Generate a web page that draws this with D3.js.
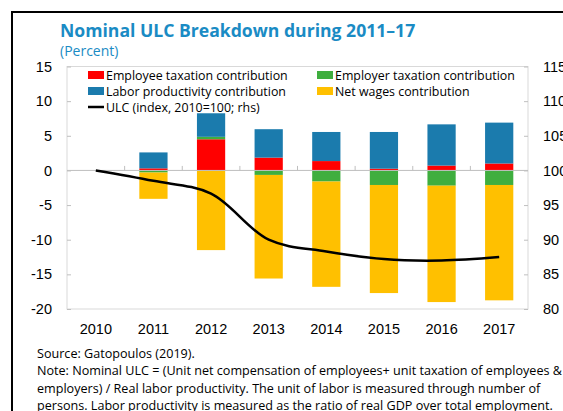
<!DOCTYPE html>
<html>
<head>
<meta charset="utf-8">
<script src="https://cdn.jsdelivr.net/npm/d3@7"></script>
<style>
  body { margin: 0; background: #fff; }
  svg { display: block; font-family: "Open Sans", "Noto Sans", sans-serif; }
</style>
</head>
<body>
<svg id="chart" width="563" height="411"></svg>
<script>

var years = ['2010', '2011', '2012', '2013', '2014', '2015', '2016', '2017']
var employeeTax = [0, 0.3, 4.5, 1.85, 1.35, 0.25, 0.7, 1.0]
var employerTax = [0, -0.3, 0.35, -0.65, -1.6, -2.1, -2.2, -2.1]
var laborProd = [0, 2.3, 3.4, 4.1, 4.2, 5.3, 5.95, 5.9]
var netWages = [0, -3.8, -11.5, -14.95, -15.2, -15.6, -16.8, -16.65]
var ulcIndex = [100, 98.5, 96.65, 90.0, 88.3, 87.2, 87.0, 87.5]
var leftTicks = [-20, -15, -10, -5, 0, 5, 10, 15]
var rightTicks = [80, 85, 90, 95, 100, 105, 110, 115]

var series = [
    {key: 'employee', name: 'Employee taxation contribution', color: '#ff0000', values: employeeTax},
    {key: 'employer', name: 'Employer taxation contribution', color: '#3fae3f', values: employerTax},
    {key: 'labor', name: 'Labor productivity contribution', color: '#1b7bad', values: laborProd},
    {key: 'wages', name: 'Net wages contribution', color: '#ffc000', values: netWages}
]

var svg = d3.select('#chart')
var plot = {left: 67, right: 528, top: 66.5, bottom: 309}

// outer black frame (top + left)
svg.append('path')
    .attr('d', 'M12,411 V12 H563')
    .attr('fill', 'none')
    .attr('stroke', '#000')
    .attr('stroke-width', 2)

svg.append('text')
    .attr('x', 60).attr('y', 37)
    .attr('fill', '#1a8bc4')
    .attr('font-size', 17.6)
    .attr('font-weight', 'bold')
    .text('Nominal ULC Breakdown during 2011\u201317')

svg.append('text')
    .attr('x', 60).attr('y', 56)
    .attr('fill', '#1a8bc4')
    .attr('font-size', 14)
    .text('(Percent)')

var x = d3.scaleBand().domain(years)
    .range([plot.left, plot.right])
    .paddingInner(0.51).paddingOuter(0.255)
var y = d3.scaleLinear().domain([-20, 15]).range([plot.bottom, plot.top])
var y2 = d3.scaleLinear().domain([80, 115]).range([plot.bottom, plot.top])

// plot frame
svg.append('rect')
    .attr('x', plot.left).attr('y', plot.top)
    .attr('width', plot.right - plot.left)
    .attr('height', plot.bottom - plot.top)
    .attr('fill', 'none')
    .attr('stroke', '#d9d9d9')

var table = years.map(function(yr, i){
    var row = {year: yr}
    series.forEach(function(s){ row[s.key] = s.values[i] })
    return row
})

var stacked = d3.stack()
    .keys(series.map(function(s){ return s.key }))
    .offset(d3.stackOffsetDiverging)(table)

svg.append('g').selectAll('g')
    .data(stacked)
    .join('g')
    .attr('fill', function(d, i){ return series[i].color })
    .selectAll('rect')
    .data(function(d){ return d.filter(function(p){ return p[1] - p[0] !== 0 }) })
    .join('rect')
    .attr('x', function(p){ return x(p.data.year) })
    .attr('width', x.bandwidth())
    .attr('y', function(p){ return y(Math.max(p[0], p[1])) })
    .attr('height', function(p){ return Math.abs(y(p[0]) - y(p[1])) })

// zero axis with category separators
var zeroAxis = d3.axisTop(x).tickSize(0).tickFormat('')
var zg = svg.append('g').attr('transform', 'translate(0,' + y(0) + ')').call(zeroAxis)
zg.select('.domain').attr('stroke', '#bfbfbf').attr('d', 'M' + plot.left + ',0H' + plot.right)
var step = x.step()
zg.selectAll('.sep')
    .data(years.slice(1))
    .join('line')
    .attr('x1', function(d){ return x(d) - (step - x.bandwidth()) / 2 })
    .attr('x2', function(d){ return x(d) - (step - x.bandwidth()) / 2 })
    .attr('y1', 0).attr('y2', -4.5)
    .attr('stroke', '#bfbfbf')

// left axis
var leftAxis = d3.axisRight(y).tickValues(leftTicks).tickSize(4).tickFormat(d3.format('d'))
var lg = svg.append('g').attr('transform', 'translate(' + plot.left + ',0)').call(leftAxis)
lg.select('.domain').remove()
lg.selectAll('line').attr('stroke', '#bfbfbf')
lg.selectAll('text')
    .attr('x', -15).attr('text-anchor', 'end')
    .attr('font-size', 14.5).attr('fill', '#000')
    .text(function(d){ return String(d) })

// right axis
var rightAxis = d3.axisLeft(y2).tickValues(rightTicks).tickSize(4)
var rg = svg.append('g').attr('transform', 'translate(' + plot.right + ',0)').call(rightAxis)
rg.select('.domain').remove()
rg.selectAll('line').attr('stroke', '#bfbfbf')
rg.selectAll('text')
    .attr('x', 15).attr('text-anchor', 'start')
    .attr('font-size', 14.5).attr('fill', '#000')

// bottom labels
var bottomAxis = d3.axisBottom(x).tickSize(0)
var bg = svg.append('g').attr('transform', 'translate(0,' + plot.bottom + ')').call(bottomAxis)
bg.select('.domain').remove()
bg.selectAll('text').attr('y', 15).attr('font-size', 14.5).attr('fill', '#000')

// ULC line
var line = d3.line()
    .x(function(d, i){ return x(years[i]) + x.bandwidth() / 2 })
    .y(function(d){ return y2(d) })
    .curve(d3.curveCatmullRom.alpha(0.5))
svg.append('path')
    .datum(ulcIndex)
    .attr('d', line)
    .attr('fill', 'none')
    .attr('stroke', '#000')
    .attr('stroke-width', 2.5)

// legend
var legendItems = [
    {label: series[0].name, color: series[0].color, col: 0, row: 0},
    {label: series[1].name, color: series[1].color, col: 1, row: 0},
    {label: series[2].name, color: series[2].color, col: 0, row: 1},
    {label: series[3].name, color: series[3].color, col: 1, row: 1},
    {label: 'ULC (index, 2010=100; rhs)', color: '#000', col: 0, row: 2, isLine: true}
]
var lgnd = svg.append('g').attr('font-size', 12.4)
legendItems.forEach(function(it){
    var lx = it.col === 0 ? 88 : 317
    var ly = 75 + it.row * 16
    if (it.isLine) {
        lgnd.append('line')
            .attr('x1', lx).attr('x2', lx + 16)
            .attr('y1', ly).attr('y2', ly)
            .attr('stroke', it.color).attr('stroke-width', 2.5)
    } else {
        lgnd.append('rect')
            .attr('x', lx).attr('y', ly - 4)
            .attr('width', 16).attr('height', 8)
            .attr('fill', it.color)
    }
    lgnd.append('text')
        .attr('x', lx + 18).attr('y', ly + 4.5)
        .attr('fill', '#000')
        .text(it.label)
})

// source & note
var notes = [
    'Source: Gatopoulos (2019).',
    'Note: Nominal ULC = (Unit net compensation of employees+ unit taxation of employees &',
    'employers) / Real labor productivity. The unit of labor is measured through number of',
    'persons. Labor productivity is measured as the ratio of real GDP over total employment.'
]
svg.append('g').selectAll('text')
    .data(notes)
    .join('text')
    .attr('x', 37)
    .attr('y', function(d, i){ return 357.5 + i * 17.5 })
    .attr('font-size', 12.6)
    .attr('fill', '#000')
    .text(function(d){ return d })

</script>
</body>
</html>
